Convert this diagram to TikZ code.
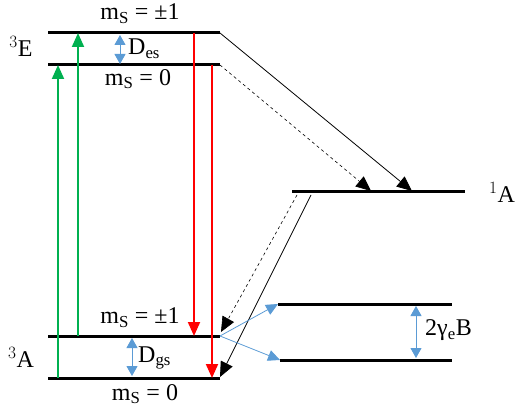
\documentclass[tikz,border=0pt]{standalone}
\usepackage{fontspec}
\setmainfont{Liberation Serif}
\usetikzlibrary{arrows.meta}
\definecolor{pumpgreen}{RGB}{0,176,80}
\definecolor{emitred}{RGB}{255,0,0}
\definecolor{splitblue}{RGB}{91,155,213}
\begin{document}
\begin{tikzpicture}[x=1pt, y=-1pt,
  font=\fontsize{24}{28}\selectfont,
  level/.style={line width=3pt},
  pump/.style={pumpgreen, line width=2pt, -{Triangle[length=14pt,width=12pt]}},
  emit/.style={emitred, line width=2pt, -{Triangle[length=14pt,width=12pt]}},
  isc/.style={black, line width=0.8pt, -{Triangle[length=15pt,width=13pt]}},
  split/.style={splitblue, line width=1pt, {Triangle[length=10pt,width=11pt]}-{Triangle[length=10pt,width=11pt]}},
  zee/.style={splitblue, line width=0.8pt, -{Triangle[length=12pt,width=11pt]}},
  lab/.style={inner sep=0pt}]
\useasboundingbox (0,0) rectangle (520,409);

% levels
\coordinate (Ep1L) at (48,33);   \coordinate (Ep1R) at (220,33);
\coordinate (E0L)  at (48,65);   \coordinate (E0R)  at (220,65);
\coordinate (AsL)  at (292,192); \coordinate (AsR)  at (465,192);
\coordinate (Ap1L) at (48,336);  \coordinate (Ap1R) at (220,336);
\coordinate (A0L)  at (48,378);  \coordinate (A0R)  at (220,378);
\coordinate (ZupL) at (278,304); \coordinate (ZupR) at (452,304);
\coordinate (ZdnL) at (280,360); \coordinate (ZdnR) at (452,360);
\foreach \l in {Ep1,E0,As,Ap1,A0,Zup,Zdn}
  \draw[level] (\l L) -- (\l R);

% labels
\node[lab] (tE) at (21,46) {$^3$E};
\node[lab] (tA) at (21,357) {$^3$A};
\node[lab] (tS) at (502,192) {$^1$A};
\node[lab] (mE1) at (140,14) {m\textsubscript{S} = ±1};
\node[lab] (mE0) at (138,79) {m\textsubscript{S} = 0};
\node[lab] (mA1) at (140,318) {m\textsubscript{S} = ±1};
\node[lab] (mA0) at (145,394) {m\textsubscript{S} = 0};
\node[lab, anchor=west] (Des) at (128,49) {D\textsubscript{es}};
\node[lab, anchor=west] (Dgs) at (138,358) {D\textsubscript{gs}};
\node[lab, anchor=west] (Zb) at (425,330) {2γ\textsubscript{e}B};

% splittings
\draw[split] (120,35) -- (120,64);
\draw[split] (132,338) -- (132,376);
\draw[split] (416,306) -- (416,358);

% optical pumping and emission
\draw[pump] (58,378) -- (58,65);
\draw[pump] (78,336) -- (78,33);
\draw[emit] (194,33) -- (194,336);
\draw[emit] (212,65) -- (212,378);

% intersystem crossing
\draw[isc] (Ep1R) -- (412,191);
\draw[isc, dashed, line width=0.6pt] (E0R) -- (371,191);
\draw[isc, dashed, line width=0.6pt] (297,195) -- (221,332);
\draw[isc] (311,195) -- (220,377);

% Zeeman split of ground state
\draw[zee] (Ap1R) -- (ZupL);
\draw[zee] (Ap1R) -- (ZdnL);
\end{tikzpicture}
\end{document}
